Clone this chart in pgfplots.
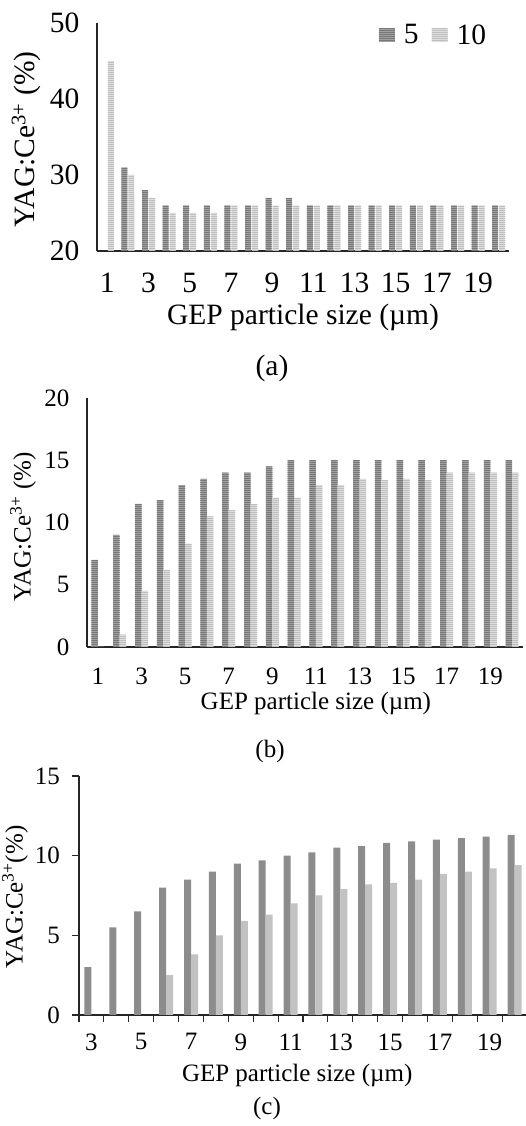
\documentclass[border=0pt]{standalone}
\usepackage{fontspec}
\setmainfont{Liberation Serif}
\usepackage{pgfplots}
\pgfplotsset{compat=1.18}
\usetikzlibrary{patterns.meta}

\definecolor{darkbar}{HTML}{A0A0A0}
\definecolor{darkline}{HTML}{787878}
\definecolor{lightbar}{HTML}{DEDEDE}
\definecolor{lightline}{HTML}{BEBEBE}
\definecolor{csolid}{HTML}{8C8C8C}
\definecolor{clight}{HTML}{C2C2C2}

\pgfplotsset{
  panel/.style={
    scale only axis,
    anchor=south west,
    ybar,
    axis x line*=bottom,
    axis y line*=left,
    axis line style={-, line width=1.2pt, black!85},
    /pgf/number format/assume math mode=true,
    enlargelimits=false,
  },
  darkstripe/.style={draw=none, fill=darkbar,
    postaction={pattern={Lines[angle=0,distance=2pt,line width=0.9pt]}, pattern color=darkline}},
  lightstripe/.style={draw=none, fill=lightbar,
    postaction={pattern={Lines[angle=0,distance=2pt,line width=0.9pt]}, pattern color=lightline}},
}

\begin{document}
\begin{tikzpicture}
\useasboundingbox (0,0) rectangle (525pt,1126pt);

% (a)
\begin{axis}[panel,
  at={(97pt,875pt)}, width=412pt, height=228pt,
  font=\fontsize{29.5}{35}\selectfont,
  xmin=0.5, xmax=20.5, ymin=20, ymax=50,
  xtick={1,3,...,19}, ytick={20,30,40,50},
  tick style={draw=none},
  xticklabel style={yshift=-14pt},
  yticklabel style={xshift=-14pt},
  bar width=6pt,
  xlabel={GEP particle size (µm)},
  ylabel={YAG:Ce\textsuperscript{3+} (\%)},
  xlabel style={at={(axis description cs:0.5,-0.29)}, anchor=center},
  ylabel style={at={(axis description cs:-0.172,0.49)}, anchor=center},
  legend style={at={(rel axis cs:0.957,1.012)}, anchor=north east, draw=none, fill=none,
    legend columns=-1,
    /tikz/every odd column/.append style={column sep=7pt},
    /tikz/every even column/.append style={column sep=11pt}},
  legend image code/.code={\path[#1] (0pt,-6.5pt) rectangle (16pt,6.5pt);},
]
\addplot[darkstripe, bar shift=-3.5pt] coordinates {
  (2,31) (3,28) (4,26) (5,26) (6,26) (7,26) (8,26) (9,27) (10,27)
  (11,26) (12,26) (13,26) (14,26) (15,26) (16,26) (17,26) (18,26) (19,26) (20,26)};
\addplot[lightstripe, bar shift=3.5pt] coordinates {
  (1,45) (2,30) (3,27) (4,25) (5,25) (6,25) (7,26) (8,26) (9,26) (10,26)
  (11,26) (12,26) (13,26) (14,26) (15,26) (16,26) (17,26) (18,26) (19,26) (20,26)};
\legend{5,10}
\end{axis}
\node[font=\fontsize{29.5}{35}\selectfont] at (272pt,758pt) {(a)};

% (b)
\begin{axis}[panel,
  at={(87pt,479pt)}, width=436pt, height=249pt,
  font=\fontsize{25}{30}\selectfont,
  xmin=0.5, xmax=20.5, ymin=0, ymax=20,
  xtick={1,3,...,19}, ytick={0,5,10,15,20},
  tick style={draw=none},
  xticklabel style={yshift=-13pt},
  yticklabel style={xshift=-14pt},
  bar width=6.5pt,
  xlabel={GEP particle size (µm)},
  ylabel={YAG:Ce\textsuperscript{3+} (\%)},
  xlabel style={at={(axis description cs:0.525,-0.228)}, anchor=center},
  ylabel style={at={(axis description cs:-0.147,0.482)}, anchor=center},
]
\addplot[darkstripe, bar shift=-3.25pt] coordinates {
  (1,7) (2,9) (3,11.5) (4,11.8) (5,13) (6,13.5) (7,14) (8,14) (9,14.5) (10,15)
  (11,15) (12,15) (13,15) (14,15) (15,15) (16,15) (17,15) (18,15) (19,15) (20,15)};
\addplot[lightstripe, bar shift=3.25pt] coordinates {
  (1,0) (2,1) (3,4.5) (4,6.2) (5,8.3) (6,10.5) (7,11) (8,11.5) (9,12) (10,12)
  (11,13) (12,13) (13,13.5) (14,13.4) (15,13.5) (16,13.4) (17,14) (18,14) (19,14) (20,14)};
\end{axis}
\node[font=\fontsize{25}{30}\selectfont] at (270pt,375pt) {(b)};

% (c)
\begin{axis}[panel,
  at={(79pt,111pt)}, width=448pt, height=239pt,
  font=\fontsize{25}{30}\selectfont,
  xmin=2.5, xmax=20.5, ymin=0, ymax=15,
  xtick={3,5,...,19}, ytick={0,5,10,15},
  minor xtick={2.5,3.5,...,20.5},
  tick align=outside,
  major tick length=7pt, minor tick length=7pt,
  tick style={line width=1.2pt, black!85},
  major x tick style={draw=none},
  xticklabel style={yshift=-8pt},
  yticklabel style={xshift=-8.5pt},
  bar width=7pt,
  xlabel={GEP particle size (µm)},
  ylabel={YAG:Ce\textsuperscript{3+}(\%)},
  xlabel style={at={(axis description cs:0.487,-0.251)}, anchor=center},
  ylabel style={at={(axis description cs:-0.143,0.494)}, anchor=center},
]
\addplot[draw=none, fill=csolid, bar shift=-3.5pt] coordinates {
  (3,3) (4,5.5) (5,6.5) (6,8) (7,8.5) (8,9) (9,9.5) (10,9.7) (11,10) (12,10.2)
  (13,10.5) (14,10.6) (15,10.8) (16,10.9) (17,11) (18,11.1) (19,11.2) (20,11.3)};
\addplot[draw=none, fill=clight, bar shift=3.5pt] coordinates {
  (6,2.5) (7,3.8) (8,5) (9,5.9) (10,6.3) (11,7) (12,7.5)
  (13,7.9) (14,8.2) (15,8.3) (16,8.5) (17,8.85) (18,9) (19,9.2) (20,9.4)};
\end{axis}
\node[font=\fontsize{25}{30}\selectfont] at (267pt,18pt) {(c)};
\end{tikzpicture}
\end{document}
